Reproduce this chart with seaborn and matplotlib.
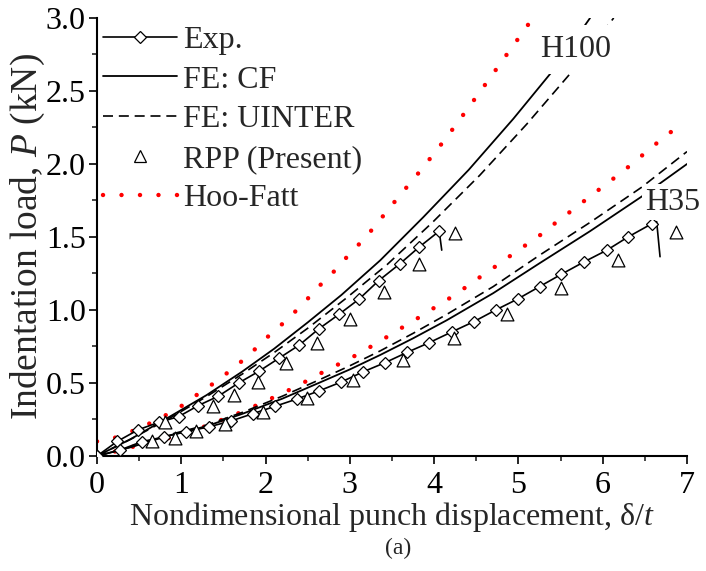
import numpy as np
import pandas as pd
import matplotlib
matplotlib.use("Agg")
import matplotlib.pyplot as plt
import seaborn as sns
from matplotlib.lines import Line2D
from matplotlib.ticker import MultipleLocator, FormatStrFormatter

# ---------------- data ----------------
exp_h100_x = [0, 0.24, 0.49, 0.73, 0.97, 1.20, 1.44, 1.68, 1.92, 2.16, 2.40, 2.63,
              2.87, 3.11, 3.34, 3.59, 3.82, 4.06, 4.09]
exp_h100_y = [0, 0.10, 0.18, 0.23, 0.27, 0.345, 0.41, 0.50, 0.58, 0.67, 0.76, 0.87,
              0.97, 1.075, 1.20, 1.315, 1.43, 1.54, 1.41]

exp_h35_x = [0, 0.27, 0.53, 0.79, 1.06, 1.33, 1.59, 1.85, 2.11, 2.37, 2.63, 2.89,
             3.16, 3.42, 3.68, 3.94, 4.21, 4.47, 4.73, 4.99, 5.25, 5.51, 5.78,
             6.05, 6.30, 6.58, 6.64, 6.68]
exp_h35_y = [0, 0.04, 0.098, 0.13, 0.167, 0.20, 0.24, 0.29, 0.34, 0.39, 0.445, 0.505,
             0.577, 0.64, 0.71, 0.776, 0.85, 0.92, 1.00, 1.075, 1.16, 1.245, 1.33,
             1.41, 1.50, 1.59, 1.605, 1.365]

cf_h100_x = [0, 0.4, 0.85, 1.3, 1.72, 2.1, 2.5, 2.9, 3.36, 3.87, 4.41, 4.94, 5.43, 5.85]
cf_h100_y = [0, 0.116, 0.265, 0.417, 0.577, 0.734, 0.915, 1.103, 1.34, 1.635, 1.96,
             2.31, 2.655, 3.0]

uinter_h100_x = [0, 0.4, 0.85, 1.3, 1.72, 2.1, 2.5, 2.95, 3.44, 3.98, 4.54, 5.10, 5.66, 6.13]
uinter_h100_y = [0, 0.115, 0.255, 0.407, 0.56, 0.708, 0.875, 1.078, 1.31, 1.60, 1.922,
                 2.274, 2.65, 3.0]

cf_h35_x = [0, 0.4, 0.85, 1.3, 1.73, 2.2, 2.65, 3.0, 3.36, 3.75, 4.15, 4.7, 5.25, 5.85,
            6.46, 7.0]
cf_h35_y = [0, 0.06, 0.14, 0.204, 0.29, 0.393, 0.505, 0.593, 0.692, 0.806, 0.93, 1.115,
            1.32, 1.54, 1.776, 2.0]

uinter_h35_x = [0, 0.4, 0.85, 1.3, 1.73, 2.2, 2.65, 3.0, 3.36, 3.75, 4.15, 4.7, 5.25,
                5.85, 6.46, 7.0]
uinter_h35_y = [0, 0.062, 0.145, 0.212, 0.30, 0.41, 0.525, 0.618, 0.72, 0.84, 0.97,
                1.16, 1.375, 1.60, 1.84, 2.085]

rpp_h100_x = [0.81, 1.38, 1.62, 1.91, 2.24, 2.61, 3.00, 3.41, 3.82, 4.25]
rpp_h100_y = [0.235, 0.34, 0.42, 0.51, 0.635, 0.775, 0.94, 1.12, 1.315, 1.525]

rpp_h35_x = [0.65, 0.93, 1.17, 1.52, 1.97, 2.49, 3.04, 3.63, 4.23, 4.86, 5.51, 6.18, 6.87]
rpp_h35_y = [0.10, 0.12, 0.17, 0.22, 0.30, 0.40, 0.52, 0.66, 0.81, 0.97, 1.15, 1.34, 1.535]

hf_h100_x = [0, 0.25, 0.45, 0.65, 0.85, 1.04, 1.21, 1.39, 1.57, 1.74, 1.89, 2.05, 2.22,
             2.38, 2.53, 2.68, 2.84, 2.99, 3.15, 3.30, 3.43, 3.575, 3.86, 4.14, 4.40,
             4.66, 4.92, 5.05, 5.17]
hf_h100_y = [0.10, 0.13, 0.178, 0.23, 0.29, 0.356, 0.43, 0.50, 0.58, 0.66, 0.74, 0.83,
             0.915, 1.005, 1.096, 1.19, 1.28, 1.38, 1.475, 1.575, 1.67, 1.772, 1.97,
             2.176, 2.38, 2.587, 2.797, 2.90, 3.0]

hf_h35_x = [0, 0.13, 0.34, 0.55, 0.77, 0.98, 1.18, 1.39, 1.60, 1.79, 2.00, 2.20, 2.40,
            2.60, 2.80, 2.98, 3.18, 3.37, 3.55, 3.74, 3.93, 4.12, 4.30, 4.48, 4.65,
            4.83, 5.01, 5.20, 5.37, 5.54, 5.72, 5.90, 6.07, 6.24, 6.41, 6.59, 6.75, 6.92]
hf_h35_y = [0, 0.018, 0.05, 0.082, 0.11, 0.144, 0.18, 0.228, 0.274, 0.32, 0.376, 0.43,
            0.486, 0.55, 0.61, 0.66, 0.726, 0.79, 0.856, 0.92, 0.99, 1.057, 1.125,
            1.20, 1.267, 1.34, 1.416, 1.486, 1.566, 1.64, 1.72, 1.80, 1.875, 1.95,
            2.03, 2.12, 2.19, 2.274]

legend_labels = ["Exp.", "FE: CF", "FE: UINTER", "RPP (Present)", "Hoo-Fatt"]
x_ticks = [0, 1, 2, 3, 4, 5, 6, 7]
y_ticks = [0.0, 0.5, 1.0, 1.5, 2.0, 2.5, 3.0]

# ---------------- style ----------------
sns.set_theme(style="ticks")
plt.rcParams['font.family'] = ['Liberation Serif', 'DejaVu Serif']
plt.rcParams['mathtext.fontset'] = 'custom'
plt.rcParams['mathtext.rm'] = 'Liberation Serif'
plt.rcParams['mathtext.it'] = 'Liberation Serif:italic'

FS = 23
fig = plt.figure(figsize=(7.06, 5.71), dpi=100)
ax = fig.add_axes([0.1374, 0.2014, 0.8357, 0.7671])

solid_kw = dict(color='black', linewidth=1.3)
dash_style = (0, (6, 3.5))
dot_style = (0, (0.01, 4.15))
red = '#ff0000'
diamond_kw = dict(marker='D', markersize=6.6, markerfacecolor='white',
                  markeredgecolor='black', markeredgewidth=0.9)

# Hoo-Fatt
for xs, ys in [(hf_h100_x, hf_h100_y), (hf_h35_x, hf_h35_y)]:
    sns.lineplot(x=xs, y=ys, ax=ax, sort=False, estimator=None, color=red,
                 linewidth=3.2, linestyle=dot_style, dash_capstyle='round', zorder=2)

# FE: CF
for xs, ys in [(cf_h100_x, cf_h100_y), (cf_h35_x, cf_h35_y)]:
    sns.lineplot(x=xs, y=ys, ax=ax, sort=False, estimator=None, zorder=3, **solid_kw)

# FE: UINTER
for xs, ys in [(uinter_h100_x, uinter_h100_y), (uinter_h35_x, uinter_h35_y)]:
    sns.lineplot(x=xs, y=ys, ax=ax, sort=False, estimator=None, color='black',
                 linewidth=1.2, linestyle=dash_style, zorder=3)

# Exp.
for xs, ys, nmark in [(exp_h100_x, exp_h100_y, len(exp_h100_x) - 1),
                      (exp_h35_x, exp_h35_y, len(exp_h35_x) - 2)]:
    sns.lineplot(x=xs, y=ys, ax=ax, sort=False, estimator=None, color='black',
                 linewidth=1.2, markevery=list(range(nmark)), zorder=4, **diamond_kw)

# RPP
for xs, ys in [(rpp_h100_x, rpp_h100_y), (rpp_h35_x, rpp_h35_y)]:
    sns.scatterplot(x=xs, y=ys, ax=ax, marker='^', s=85, facecolor='white',
                    edgecolor='black', linewidth=0.9, zorder=5)

# labels on curves (white boxes hide the curve ends, as in the reference)
ax.text(5.68, 2.733, "H100", fontsize=FS, ha='center', va='baseline', zorder=10,
        bbox=dict(facecolor='white', edgecolor='none', pad=7))
ax.text(6.83, 1.685, "H35", fontsize=FS, ha='center', va='baseline', zorder=10,
        clip_on=False, bbox=dict(facecolor='white', edgecolor='none', pad=2.5))

# axes
ax.set_xlim(0, 7)
ax.set_ylim(0, 3.0)
ax.set_xticks(x_ticks)
ax.set_yticks(y_ticks)
ax.xaxis.set_minor_locator(MultipleLocator(0.5))
ax.yaxis.set_minor_locator(MultipleLocator(0.25))
ax.yaxis.set_major_formatter(FormatStrFormatter('%.1f'))
ax.tick_params(which='major', direction='out', length=6, width=1.2, labelsize=FS,
               colors='black', pad=2)
ax.tick_params(axis='x', which='major', pad=4.5)
ax.tick_params(which='minor', direction='out', length=3.5, width=1.2)
for s in ['top', 'right']:
    ax.spines[s].set_visible(False)
for s in ['left', 'bottom']:
    ax.spines[s].set_linewidth(1.5)
    ax.spines[s].set_color('black')
ax.set_xlabel("Nondimensional punch displacement, δ/$\\mathit{t}$", fontsize=FS, labelpad=0)
ax.set_ylabel("Indentation load, $\\mathit{P}$ (kN)", fontsize=27)
ax.yaxis.set_label_coords(-0.084, 0.5)

# legend
handles = [
    Line2D([], [], color='black', linewidth=1.2, **diamond_kw),
    Line2D([], [], **solid_kw),
    Line2D([], [], color='black', linewidth=1.2, linestyle=dash_style),
    Line2D([], [], linestyle='none', marker='^', markersize=9, markerfacecolor='white',
           markeredgecolor='black', markeredgewidth=0.9),
    Line2D([], [], color=red, linewidth=3.2, linestyle=dot_style, dash_capstyle='round'),
]
ax.legend(handles, legend_labels, loc='upper left', bbox_to_anchor=(0.0, 0.997),
          frameon=False, fontsize=FS, handlelength=2.3, handletextpad=0.2,
          labelspacing=0.32, borderaxespad=0.0, borderpad=0.2, markerscale=1.0)

fig.text(0.5637, 0.0403, "(a)", fontsize=17, ha='center', va='center')

fig.savefig("out.png", dpi=100)
